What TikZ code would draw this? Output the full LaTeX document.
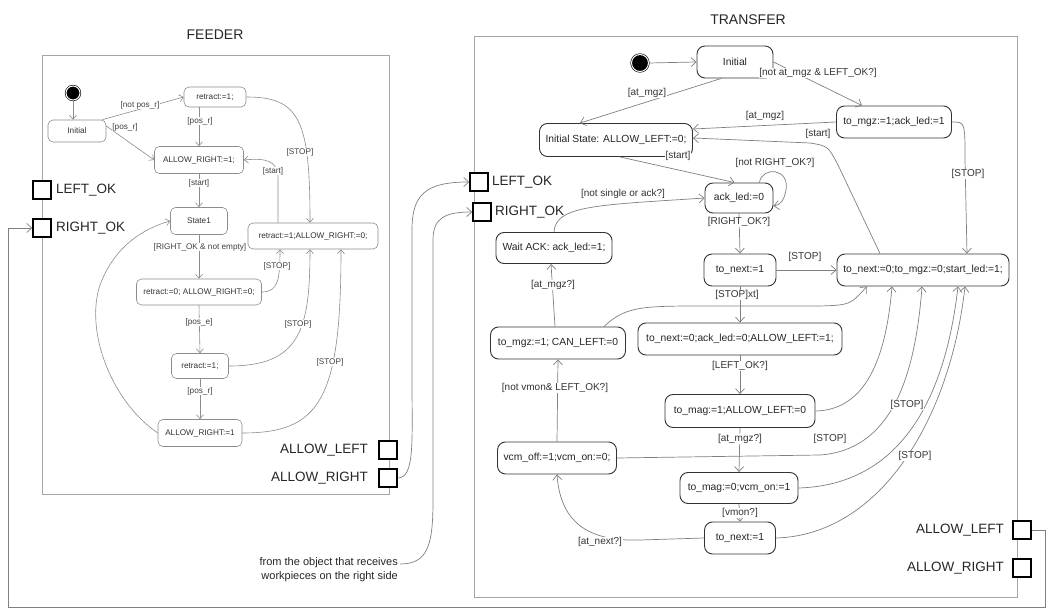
\documentclass[tikz,border=0pt]{standalone}
\usepackage{fontspec}
\setmainfont{Liberation Sans}
\usetikzlibrary{arrows.meta,calc}
\begin{document}
\begin{tikzpicture}[x=1pt,y=-1pt]
\tikzset{
 fst/.style={draw=black!45, line width=0.6pt, rounded corners=5pt, inner sep=0pt, font=\fontsize{8.2}{9}\selectfont, text=black!80},
 tst/.style={draw=black!80, line width=0.9pt, rounded corners=8pt, inner sep=0pt, font=\fontsize{10.3}{12}\selectfont, text=black!85},
 flab/.style={fill=white, inner sep=0.6pt, font=\fontsize{8.2}{9}\selectfont, text=black!75},
 tlab/.style={fill=white, inner sep=0.6pt, font=\fontsize{10}{11}\selectfont, text=black!80},
 fed/.style={draw=black!45, line width=0.6pt, -{Straight Barb[length=4pt,width=7pt]}},
 ted/.style={draw=black!50, line width=0.7pt, -{Straight Barb[length=5pt,width=9pt]}},
 port/.style={draw=black, line width=1.5pt, minimum size=18pt, inner sep=0pt, fill=white},
 plab/.style={font=\fontsize{13.5}{15}\selectfont, text=black!85, inner sep=0pt},
 frm/.style={draw=black!35, line width=0.9pt},
 dotn/.style={circle, fill=black, draw=black, double=white, double distance=1pt, line width=0.6pt, inner sep=0pt},
 ttl/.style={font=\fontsize{14}{16}\selectfont, text=black!85},
}
\useasboundingbox (0,0) rectangle (1047,612);
\fill[white] (0,0) rectangle (1047,612);

% ---------- frames and titles
\node[ttl] (feedTitle) at (215,35) {FEEDER};
\node[ttl] (transTitle) at (748,20) {TRANSFER};
\draw[frm] (42,55) rectangle (389,494);
\draw[frm] (474,36) rectangle (1017,597);

% ---------- FEEDER states
\node[dotn, minimum size=14pt] (fdot) at (73,93) {};
\node[fst, minimum width=58pt, minimum height=22pt] (fInit) at (77,131) {Initial};
\node[fst, minimum width=62pt, minimum height=20pt] (fRet1) at (215,97) {retract:=1;};
\node[fst, minimum width=89pt, minimum height=27pt] (fAR1) at (199,160) {ALLOW\_RIGHT:=1;};
\node[fst, minimum width=57pt, minimum height=27pt] (fS1) at (199,221) {State1};
\node[fst, minimum width=130pt, minimum height=26pt] (fRR) at (313,236) {retract:=1;ALLOW\_RIGHT:=0;};
\node[fst, minimum width=125pt, minimum height=26pt] (fR0) at (199,292) {retract:=0; ALLOW\_RIGHT:=0;};
\node[fst, minimum width=57pt, minimum height=25pt] (fRet2) at (200,366) {retract:=1;};
\node[fst, minimum width=84pt, minimum height=27pt] (fAR2) at (200,433) {ALLOW\_RIGHT:=1};

% FEEDER ports
\node[port] (fLOK) at (42,190) {};
\node[plab, anchor=west] (fLOKl) at (56,190) {LEFT\_OK};
\node[port] (fROK) at (42,228) {};
\node[plab, anchor=west] (fROKl) at (56,228) {RIGHT\_OK};
\node[port] (fAL) at (388,450) {};
\node[plab, anchor=east] (fALl) at (368,450) {ALLOW\_LEFT};
\node[port] (fAR) at (388,478) {};
\node[plab, anchor=east] (fARl) at (368,478) {ALLOW\_RIGHT};

% FEEDER transitions
\draw[fed] (fdot.south) -- (fdot.south |- fInit.north);
\draw[fed] ($(fInit.north east)+(-4,0)$) -- (fRet1.west);
\draw[fed] ($(fInit.east)+(0,-5)$) -- (fAR1.west);
\draw[fed] (fAR1.north |- fRet1.south) -- (fAR1.north);
\draw[fed] (fRet1.east) .. controls (300,97) and (310,120) .. (fRR.north -| 310,0);
\draw[fed] (fRR.north -| 278,0) -- (278,178) .. controls (278,160) and (265,158) .. (fAR1.east);
\draw[fed] (fAR1.south) -- (fS1.north);
\draw[fed] (fS1.south) -- (fR0.north);
\draw[fed] (fR0.east) .. controls (278,292) and (280,280) .. (fRR.south -| 280,0);
\draw[fed] (fR0.south) -- (fRet2.north);
\draw[fed] (fRet2.east) .. controls (300,366) and (310,330) .. (fRR.south -| 310,0);
\draw[fed] (fRet2.south) -- (fAR2.north);
\draw[fed] (fAR2.east) .. controls (320,433) and (341,400) .. (fRR.south -| 341,0);
\draw[fed] (fAR2.west) .. controls (110,400) and (85,330) .. (100,285) .. controls (115,245) and (145,228) .. (fS1.west);

\node[flab] (lf1) at (140,105) {[not pos\_r]};
\node[flab] (lf2) at (125,127) {[pos\_r]};
\node[flab] (lf3) at (200,121) {[pos\_r]};
\node[flab] (lf4) at (300,152) {[STOP]};
\node[flab] (lf5) at (273,171) {[start]};
\node[flab] (lf6) at (199,183) {[start]};
\node[flab] (lf7) at (200,247) {[RIGHT\_OK \& not empty]};
\node[flab] (lf8) at (277,266) {[STOP]};
\node[flab] (lf9) at (199,322) {[pos\_e]};
\node[flab] (lf10) at (298,324) {[STOP]};
\node[flab] (lf11) at (200,391) {[pos\_r]};
\node[flab] (lf12) at (330,362) {[STOP]};

% ---------- TRANSFER states
\node[dotn, minimum size=17pt] (tdot) at (640,63) {};
\node[tst, minimum width=76pt, minimum height=32pt] (tInit) at (735,62) {Initial};
\node[tst, minimum width=115pt, minimum height=32pt] (tMgz) at (894,122) {to\_mgz:=1;ack\_led:=1};
\node[tst, minimum width=153pt, minimum height=33pt] (tIS) at (616,140) {Initial State: ALLOW\_LEFT:=0;};
\node[tst, minimum width=68pt, minimum height=30pt] (tAck) at (739,198) {ack\_led:=0};
\node[tst, minimum width=116pt, minimum height=31pt] (tWait) at (554,248) {Wait ACK: ack\_led:=1;};
\node[tst, minimum width=72pt, minimum height=32pt] (tNext1) at (740,270) {to\_next:=1};
\node[tst, minimum width=172pt, minimum height=32pt] (tBig) at (923,270) {to\_next:=0;to\_mgz:=0;start\_led:=1;};
\node[tst, minimum width=204pt, minimum height=32pt] (tNAA) at (740,339) {to\_next:=0;ack\_led:=0;ALLOW\_LEFT:=1;};
\node[tst, minimum width=135pt, minimum height=32pt] (tCan) at (558,343) {to\_mgz:=1; CAN\_LEFT:=0};
\node[tst, minimum width=150pt, minimum height=33pt] (tMag1) at (740,411) {to\_mag:=1;ALLOW\_LEFT:=0};
\node[tst, minimum width=119pt, minimum height=32pt] (tVcm) at (557,458) {vcm\_off:=1;vcm\_on:=0;};
\node[tst, minimum width=118pt, minimum height=31pt] (tMag0) at (739,488) {to\_mag:=0;vcm\_on:=1};
\node[tst, minimum width=71pt, minimum height=32pt] (tNext2) at (740,538) {to\_next:=1};

% TRANSFER ports
\node[port] (tLOK) at (479,182) {};
\node[plab, anchor=west] (tLOKl) at (492,182) {LEFT\_OK};
\node[port] (tROK) at (482,212) {};
\node[plab, anchor=west] (tROKl) at (495,212) {RIGHT\_OK};
\node[port] (tAL) at (1022,530) {};
\node[plab, anchor=east] (tALl) at (1004,530) {ALLOW\_LEFT};
\node[port] (tAR) at (1022,568) {};
\node[plab, anchor=east] (tARl) at (1004,568) {ALLOW\_RIGHT};

% TRANSFER transitions
\draw[ted] (tdot.east) -- (tInit.west);
\draw[ted] (tInit.230) -- ($(tIS.north)+(-36,0)$);
\draw[ted] (tInit.east) -- ($(tMgz.north)+(-32,0)$);
\draw[ted] (tMgz.west) -- ($(tIS.east)+(0,-11)$);
\draw[ted] ($(tBig.north)+(-43,0)$) -- (838,165) .. controls (828,146) .. (810,143) -- ($(tIS.east)+(0,-2)$);
\draw[ted] (tMgz.east) .. controls (965,122) .. (965,160) -- ($(tBig.north)+(44,0)$);
\draw[ted] ($(tIS.south)+(4,0)$) -- ($(tAck.north west)+(30,0)$);
\draw[ted] ($(tAck.north east)+(-14,0)$) .. controls (762,166) and (790,168) .. (786,190) .. controls (784,201) and (780,205) .. ($(tAck.east)+(0,8)$);
\draw[ted] (tWait.north) .. controls (555,205) and (600,205) .. (tAck.west);
\draw[ted] (tAck.south) -- (tNext1.north);
\draw[ted] (tNext1.east) -- (tBig.west);
\draw[ted] (tNext1.south) -- (tNAA.north);
\draw[ted] (tNAA.south) -- (tMag1.north);
\draw[ted] (tMag1.south) -- (tMag0.north);
\draw[ted] (tMag0.south) -- (tNext2.north);
\draw[ted] (tNext2.west) -- (640,540) .. controls (580,542) and (560,515) .. (tVcm.south);
\draw[ted] (tVcm.north) -- (tCan.south);
\draw[ted] ($(tCan.north)+(-3,0)$) -- ($(tWait.south)+(-3,0)$);
\draw[ted] ($(tCan.north east)+(-22,0)$) .. controls (625,307) and (640,306) .. (700,306) -- (820,306) .. controls (850,305) .. ($(tBig.south)+(-56,0)$);
\draw[ted] (tMag1.east) .. controls (860,410) and (885,370) .. ($(tBig.south)+(-31,0)$);
\draw[ted] (tVcm.east) -- (820,455) .. controls (890,450) and (915,380) .. ($(tBig.south)+(-1,0)$);
\draw[ted] (tMag0.east) .. controls (900,485) and (945,400) .. ($(tBig.south)+(35,0)$);
\draw[ted] (tNext2.east) .. controls (880,535) and (950,420) .. ($(tBig.south)+(42,0)$);

\node[tlab] (lt1) at (647,93) {[at\_mgz]};
\node[tlab] (lt2) at (818,73) {[not at\_mgz \& LEFT\_OK?]};
\node[tlab] (lt3) at (765,116) {[at\_mgz]};
\node[tlab] (lt4) at (818,134) {[start]};
\node[tlab] (lt5) at (968,174) {[STOP]};
\node[tlab] (lt6) at (678,156) {[start]};
\node[tlab] (lt7) at (775,163) {[not RIGHT\_OK?]};
\node[tlab] (lt8) at (623,194) {[not single or ack?]};
\node[tlab] (lt9) at (739,222) {[RIGHT\_OK?]};
\node[tlab] (lt10) at (805,257) {[STOP]};
\node[tlab] (lt11) at (737,295) {[STOP]xt]};
\node[tlab] (lt12) at (553,285) {[at\_mgz?]};
\node[tlab] (lt13) at (740,366) {[LEFT\_OK?]};
\node[tlab] (lt14) at (555,388) {[not vmon\& LEFT\_OK?]};
\node[tlab] (lt15) at (740,439) {[at\_mgz?]};
\node[tlab] (lt16) at (907,405) {[STOP]};
\node[tlab] (lt17) at (830,439) {[STOP]};
\node[tlab] (lt18) at (915,456) {[STOP]};
\node[tlab] (lt19) at (740,513) {[vmon?]};
\node[tlab] (lt20) at (600,542) {[at\_next?]};

% ---------- external connections
\node[font=\fontsize{11}{14}\selectfont, text=black!85, align=right, anchor=east, inner sep=0pt] (fromTxt) at (398,570) {from the object that receives\\workpieces on the right side};
\draw[ted] (fAR.east) .. controls (415,478) and (412,440) .. (412,380) -- (412,230) .. controls (412,195) and (425,182) .. (tLOK.west);
\draw[ted] ($(fromTxt.east)+(2,-6)$) .. controls (428,564) and (433,545) .. (433,500) -- (433,240) .. controls (433,218) and (445,212) .. (tROK.west);
\coordinate (cA) at (1045,530);
\coordinate (cB) at (1045,607);
\coordinate (cC) at (8,607);
\coordinate (cD) at (8,228);
\draw[ted] (tAL.east) -- (cA) -- (cB) -- (cC) -- (cD) -- (fROK.west);
\end{tikzpicture}
\end{document}
